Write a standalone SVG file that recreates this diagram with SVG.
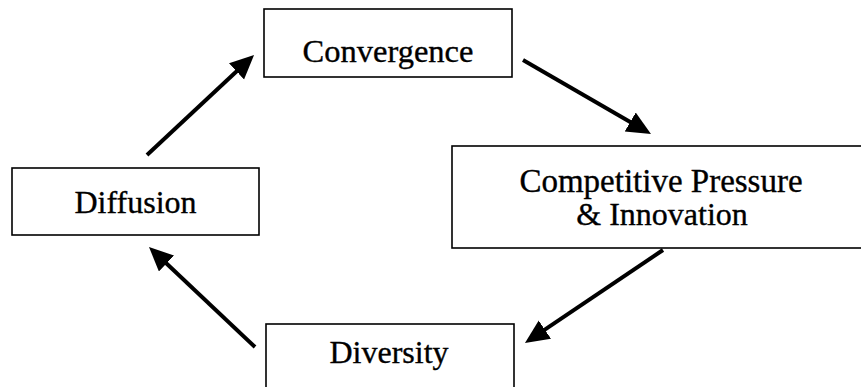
<svg xmlns="http://www.w3.org/2000/svg" width="861" height="387" viewBox="0 0 861 387">
<style>
.box{fill:#fff;stroke:#000;stroke-width:1.6}
.lbl{font-family:"Liberation Serif","Times New Roman",serif;font-size:32px;fill:#000;stroke:#000;stroke-width:0.35;text-anchor:middle}
.arr{stroke:#000;stroke-width:4;fill:none;marker-end:url(#ah)}
</style>
<defs>
<marker id="ah" markerUnits="userSpaceOnUse" markerWidth="26" markerHeight="24" refX="9" refY="11" orient="auto">
<path d="M0,0 L24,11 L0,22 z" fill="#000"/>
</marker>
</defs>
<rect width="861" height="387" fill="#fff"/>
<g id="convergence">
<rect class="box" x="264" y="9" width="248" height="68"/>
<text class="lbl" x="388" y="62" style="font-size:32.5px">Convergence</text>
</g>
<g id="diffusion">
<rect class="box" x="12" y="168" width="247" height="67"/>
<text class="lbl" x="135.5" y="213">Diffusion</text>
</g>
<g id="competitive">
<rect class="box" x="452" y="146" width="420" height="102"/>
<text class="lbl" x="661" y="192" style="font-size:33px">Competitive Pressure</text>
<text class="lbl" x="662" y="225">&amp; Innovation</text>
</g>
<g id="diversity">
<rect class="box" x="266" y="324" width="248" height="80"/>
<text class="lbl" x="389" y="363">Diversity</text>
</g>
<g id="connectors">
<line class="arr" x1="147" y1="155" x2="243.1" y2="65.2"/>
<line class="arr" x1="523" y1="60" x2="638.0" y2="126.5"/>
<line class="arr" x1="663" y1="250" x2="537.4" y2="334.6"/>
<line class="arr" x1="255" y1="347" x2="159.9" y2="257.3"/>
</g>
</svg>
